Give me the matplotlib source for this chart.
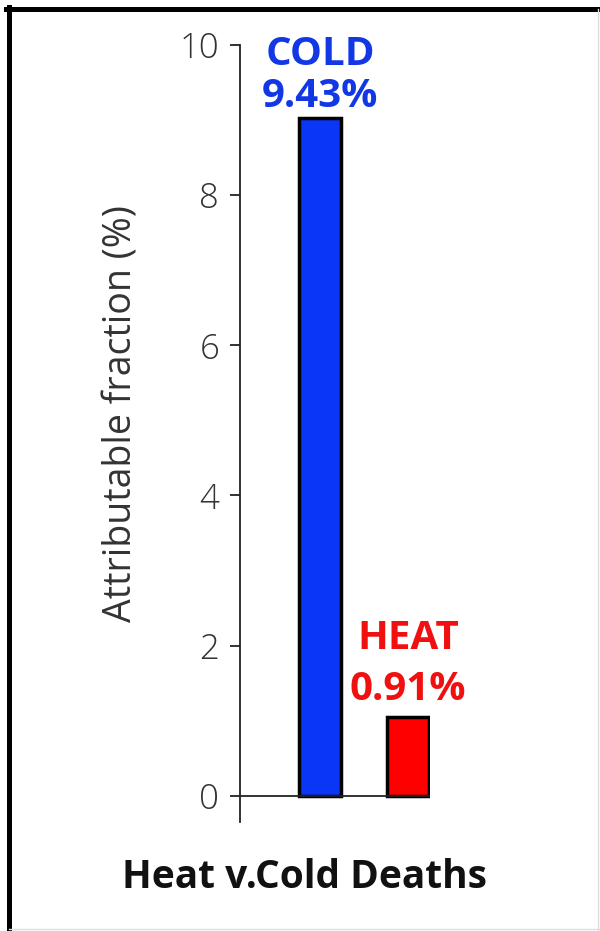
import matplotlib.pyplot as plt
from matplotlib.lines import Line2D

# bar data
categories = ["COLD", "HEAT"]
bar_heights = [9.03, 1.05]
value_labels = ["9.43%", "0.91%"]
bar_colors = ["#0a36f5", "#ff0000"]
label_colors = ["#1238e6", "#f01010"]
yticks = [0, 2, 4, 6, 8, 10]

plt.rcParams['font.family'] = ['Open Sans', 'DejaVu Sans']

fig = plt.figure(figsize=(6, 9.31), dpi=100)
ax = fig.add_axes([0.4, 0.1171, 0.3167, 0.8346])

x = [0, 1]
ax.bar(x, bar_heights, width=0.48, color=bar_colors, edgecolor="black", linewidth=2.5, zorder=3)
ax.axhline(0, color="#222222", lw=1.3, zorder=4)

ax.set_xlim(-0.909, 1.25)
ax.set_ylim(-0.35, 10)

for s in ["top", "right", "bottom"]:
    ax.spines[s].set_visible(False)
ax.spines["left"].set_linewidth(1.3)
ax.spines["left"].set_color("#222222")

ax.set_xticks([])
ax.set_yticks(yticks)
ax.set_yticklabels([str(t) for t in yticks], fontsize=25, color="#333333", fontweight="light")
ax.tick_params(axis="y", direction="out", length=7, width=1.3, color="#222222", pad=8)

ax.set_ylabel("Attributable fraction (%)", fontsize=27, color="#333333", labelpad=28)
ax.yaxis.label.set_y(0.525)  # label sits a little above the middle

# labels above the bars
name_y = [9.87, 2.10]
value_y = [9.31, 1.41]
for i in range(2):
    ax.text(x[i], name_y[i], categories[i], ha="center", va="center",
            fontsize=29, fontweight="bold", color=label_colors[i])
    ax.text(x[i], value_y[i], value_labels[i], ha="center", va="center",
            fontsize=29, fontweight="bold", color=label_colors[i])

fig.text(0.508, 0.057, "Heat v.Cold Deaths", ha="center", va="center",
         fontsize=28, fontweight="bold", color="#111111")

# frame round the picture (left and top are black, the rest faint)
fig.add_artist(Line2D([0.0142, 0.0142], [0, 0.9925], color="black", lw=3.6, transform=fig.transFigure))
fig.add_artist(Line2D([0.0105, 1], [0.9903, 0.9903], color="black", lw=3.6, transform=fig.transFigure))
fig.add_artist(Line2D([0.997, 0.997], [0, 0.99], color="#dddddd", lw=1, transform=fig.transFigure))
fig.add_artist(Line2D([0.0142, 1], [0.002, 0.002], color="#dddddd", lw=1, transform=fig.transFigure))

fig.savefig("out.png", dpi=100)
